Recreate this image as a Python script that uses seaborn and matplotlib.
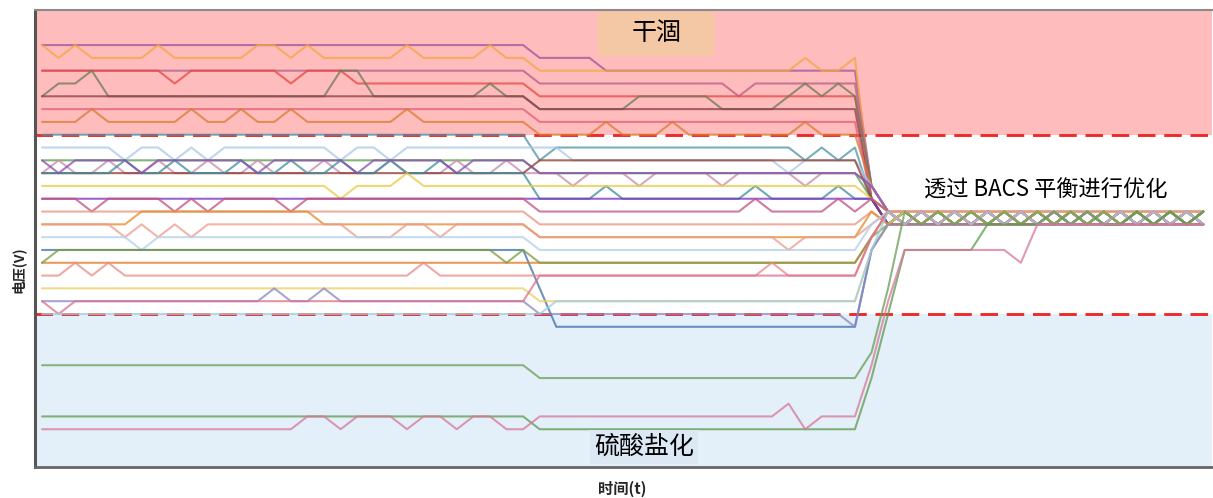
import numpy as np
import pandas as pd
import matplotlib
matplotlib.use("Agg")
import matplotlib.pyplot as plt
import seaborn as sns
from matplotlib.patches import Rectangle

# Cell voltage readings, one character per time step (groups of 10 steps).
# Character -> voltage through LEVEL_KEY: 'K' = V_LOW, each letter = one V_STEP.
LEVEL_KEY = "ABCDEFGHIJKLMNOPQRSTUVWXYZabcdefg"
V_LOW = 2.10      # sulfation threshold
V_HIGH = 2.24     # dry-out threshold
V_STEP = 0.01

dryout_cells = [
    "ffffffffff ffffffffff ffffffffff eeeedddddd dddddddddd USRSRSRSRS RSRSRSRSRS R",
    "fefeeeefee eeeffefeee eefeeeefee dddddddddd ddddddedde TRSRSRSRSR SRSRSRSRSR S",
    "dddddddddd dddddddddd dddddddddd cccccccccc ccbccccccc USSSSSSSSS SSSSSSSSSS S",
    "ddddddddcd dddddcdddc cccccccccc bbbbbbbbbb bbbbbbbbbb TRSRSRSRSR SRSRSRSRSR S",
    "bccdbbbbbb bbbbbbbbdd bbbbbbbcbb aaaaaabbbb baaaabcbcb USRSRSRSRS RSRSRSRSRS R",
    "bbbbbbbbbb bbbbbbbbbb bbbbbbbbbb aaaaaaaaaa aaaaaaaaaa TRRRRRRRRR RRRRRRRRRR R",
    "aaaaaaaaaa aaaaaaaaaa aaaaaaaaaa ZZZZZZZZZZ ZZZZZZZZZZ TSSRSRSRSR SRSRSRSRSR S",
    "ZZZaZZZZZa ZZaZZaZZZZ ZZaZZZZZZZ YYYYZYYYZY YYYYYYZYYY USRSRSRSRS RSRSRSRSRS R",
]
dryout_colors = ["#a0529c", "#f3a640", "#b65e88", "#e8473f",
                 "#6d7a5a", "#8e3d4c", "#e25f78", "#d97b31"]

normal_cells = [
    "YYYYYYYYYY YYYYYYYYYY YYYYYYYYYY WXXXXXXXXX XXXXXXWXWX TRSRSRSRSR SRSRSRSRSR S",
    "XXXXXWXXWX WXXXXXXXWX XWXXXXXXXX XXWWWWWWWW WWWWWVWWWW USSSSSSSSS SSSSSSSSSS S",
    "WWWWWWWWWW WWWWWWWWWW WWWWWWWWWW VVVVVVVVVV VVVVVVVVVV TRSRSRSRSR SRSRSRSRSR S",
    "VWVVWVVWVV WVVWVVVWVV VWVVVWVVWV VVUVVVUVVV VUVVVVUVVV USRSRSRSRS RSRSRSRSRS R",
    "VVVVVVVVVV VVVVVVVVVV VVVVVVVVVV WWWWWWWWWW WWWWWWWWWW TRRRRRRRRR RRRRRRRRRR R",
    "VVVVVWVVWV VVWVVWVVWV VWVVWVVVVV TTTTUTTTTT TTTUTTTTUT TSRSRSRSRS RSRSRSRSRS R",
    "WVWWWWVWWW WWWVWWWWWV WWWWWVWWWW VVVVVVVVVV VVVVVVVVVV USRSRSRSRS RSRSRSRSRS R",
    "UUUUUUUUUU UUUUUUUUTU UUVUUUUUUU UUUUUUUUUU UUUUUUUUUU TSSSSSSSSS SSSSSSSSSS S",
    "TTTTTTTTTT TTTTTTTTTT TTTTTTTTTT TTTTTTTTTT TTTTTTTTTT TRSRSRSRSR SRSRSRSRSR S",
    "TTTSTTTTST STTTTSTTTT TTTTTTTTTT SSSSSSSSSS SSSTSSSSTS TSRSRSRSRS RSRSRSRSRS R",
    "SSSSSSSSSS SSSSSSSSSS SSSSSSSSSS RRRRRRRRRR RRRRRRRRRR SRSRSRSRSR SRSRSRSRSR S",
    "RRRRRRSSSS SSSSSSSRRR RRRRRRRRRR QQQQQQQQQQ QQQQQQQQQQ SRRRRRRRRR RRRRRRRRRR R",
    "RRRRRQRQRQ RRRRRRRRRQ QQRRQRRRRR QQQQQQQQQQ QQQQQPQQQQ RSRSRSRSRS RSRSRSRSRS R",
    "QQQQQQPQQQ QQQQQQQQQQ QQQQQQQQQQ PPPPPPPPPP PPPPPPPPPP RSRSRSRSRS RSRSRSRSRS R",
    "PPPPPPPPPP PPPPPPPPPP PPPPPPPPPP MJJJJJJJJJ JJJJJJJJJJ PRSRSRSRSR SRSRSRSRSR S",
    "OOOOOOOOOO OOOOOOOOOO OOOOOOOOOO OOOOOOOOOO OOOOOOOOOO QSRSRSRSRS RSRSRSRSRS R",
    "OPPPPPPPPP PPPPPPPPPP PPPPPPPPOP OOOOOOOOOO OOOOOOOOOO QRSRSRSRSR SRSRSRSRSR S",
    "NNONONNNNN NNNNNNNNNN NNNONNNNNN NNNNNNNNNN NNNNONNNNN QSSSSSSSSS SSSSSSSSSS S",
    "MMMMMMMMMM MMMMMMMMMM MMMMMMMMMM LLLLLLLLLL LLLLLLLLLL PRSRSRSRSR SRSRSRSRSR S",
    "LLLLLLLLLL LLLLMLLMLL LLLLLLLLLL KKKKKKKKKK KKKKKKKKKJ PRRRRRRRRR RRRRRRRRRR R",
    "LKLLLLLLLL LLLLLLLLLL LLLLLLLLLL NNNNNNNNNN NNNNNNNNNN QSRSRSRSRS RSRSRSRSRS R",
    "KKKKKKKKKK KKKKKKKKKK KKKKKKKKKK KLLLLLLLLL LLLLLLLLLL PSRSRSRSRS RSRSRSRSRS R",
]
normal_colors = ["#4c93a6", "#a8c8e9", "#5d9b4b", "#c98aaf", "#8b3a2e", "#3d8c9c",
                 "#8a4fb0", "#e6cc45", "#7b2fc0", "#c2507f", "#e8937d", "#e48a2b",
                 "#eb9c8c", "#b3cfe9", "#3e6fa6", "#df7a27", "#7d9c3e", "#ea8b84",
                 "#ead062", "#8c86c4", "#dd6f8f", "#9fcbe0"]

sulfated_cells = [
    "GGGGGGGGGG GGGGGGGGGG GGGGGGGGGG FFFFFFFFFF FFFFFFFFFF HMSRSRSRSR SRSRSRSRSR S",
    "CCCCCCCCCC CCCCCCCCCC CCCCCCCCCC BBBBBBBBBB BBBBBBBBBB FKPPPPPRRR RSRSRRSRSR S",
    "BBBBBBBBBB BBBBBBCCBC CCBCCBCCBB CCCCCCCCCC CCCCCDBCCC GLPPPPPPPO RRRRRRRRRR R",
]
sulfated_colors = ["#6a9e55", "#5f9950", "#d6789a"]

cells = dryout_cells + normal_cells + sulfated_cells
colors = dryout_colors + normal_colors + sulfated_colors

rows = []
for i, s in enumerate(cells):
    s = s.replace(" ", "")
    assert len(s) == 71, (i, len(s))
    for t, ch in enumerate(s):
        rows.append((f"cell{i:02d}", t, V_LOW + V_STEP * (LEVEL_KEY.index(ch) - 10)))
df = pd.DataFrame(rows, columns=["cell", "time", "voltage"])
palette = {f"cell{i:02d}": c for i, c in enumerate(colors)}

sns.set_theme(style="white")
plt.rcParams['font.family'] = ['Noto Sans CJK SC', 'DejaVu Sans']

fig = plt.figure(figsize=(12.13, 4.98), dpi=100)
ax = fig.add_axes([0.0289, 0.0622, 0.9705, 0.918])

y_bot, y_top = 1.9805, 2.3375
ax.axhspan(V_HIGH, y_top, color="#ffbcbc", zorder=0, lw=0)
ax.axhspan(y_bot, V_LOW, color="#e4f0f9", zorder=0, lw=0)
for v in (V_HIGH, V_LOW):
    ax.axhline(v, color="#ee2a2a", lw=2.1, ls=(0, (6, 3)), zorder=1)

sns.lineplot(data=df, x="time", y="voltage", hue="cell", palette=palette,
             estimator=None, sort=False, legend=False, linewidth=1.5,
             alpha=0.75, ax=ax, zorder=3)

ax.set_xlim(-0.42, 70.54)
ax.set_ylim(y_bot, y_top)
ax.set_xticks([])
ax.set_yticks([])
ax.set_xlabel("")
ax.set_ylabel("")

ax.add_patch(Rectangle((33.5, 2.3016), 7.0, 0.0344, facecolor="#f4c7a5",
                       edgecolor="none", zorder=4))
ax.text(37.05, 2.3195, "干涸", fontsize=18, ha="center", va="center", color="black", zorder=5)
ax.text(36.3, 1.996, "硫酸盐化", fontsize=18, ha="center", va="center", color="black",
        zorder=5, bbox=dict(boxstyle="square,pad=0.15", facecolor="#dce9f5", edgecolor="none"))
ax.text(60.5, 2.197, "透过 BACS 平衡进行优化", fontsize=16, ha="center", va="center",
        color="black", zorder=5,
        bbox=dict(boxstyle="square,pad=0.2", facecolor="white", edgecolor="none"))

for side in ("left", "bottom", "top"):
    ax.spines[side].set_visible(True)
ax.spines["left"].set_color("#555555")
ax.spines["left"].set_linewidth(2.2)
ax.spines["bottom"].set_color("#666666")
ax.spines["bottom"].set_linewidth(2.0)
ax.spines["top"].set_color("#8a8a8a")
ax.spines["top"].set_linewidth(1.5)
ax.spines["right"].set_visible(False)

fig.text(0.513, 0.018, "时间(t)", fontsize=11, fontweight="bold", ha="center", va="center")
fig.text(0.0148, 0.458, "电压(V)", fontsize=10, fontweight="bold", ha="center", va="center",
         rotation=90)

fig.savefig("out.png", dpi=100)
